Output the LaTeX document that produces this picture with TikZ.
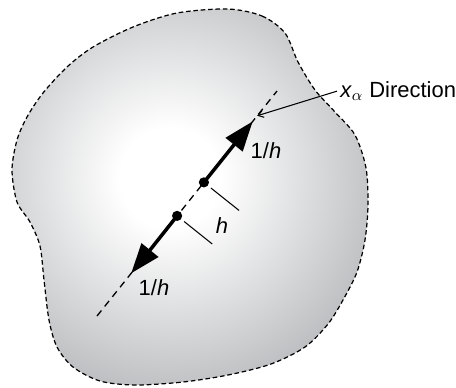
\documentclass[tikz,border=0pt]{standalone}
\usepackage{fontspec}
\setmainfont{Liberation Sans}
\usetikzlibrary{arrows.meta,calc}
\definecolor{blobgray}{RGB}{160,162,166}
\pgfdeclareradialshading{blobshade}{\pgfpointorigin}{color(0bp)=(white); color(5bp)=(white); color(29bp)=(blobgray); color(50bp)=(blobgray)}

\begin{document}
\begin{tikzpicture}[
    x=0.02cm, y=-0.02cm,
    every node/.style={font=\fontsize{12.5}{15}\selectfont},
    outline/.style={draw, dash pattern=on 2.6pt off 1.6pt, line width=0.7pt},
    axis/.style={draw, dash pattern=on 4pt off 3pt, line width=0.75pt},
    flux/.style={-{Triangle[length=17pt,width=12pt]}, line width=2pt},
    tick/.style={line width=0.6pt},
    leader/.style={-{Straight Barb[length=3pt,width=4pt]}, line width=0.6pt},
    dot/.style={circle, fill, inner sep=0pt, minimum size=5.8pt}
]
\useasboundingbox (0,0) rectangle (456,387);

% Region
\def\blobpath{plot[smooth cycle] coordinates {
    (228,9) (262,16) (285,33) (298,62) (315,90) (335,112) (355,135)
    (366,168) (368,205) (365,240) (357,272) (343,300) (328,324) (305,347)
    (271,364) (228,375) (183,382) (135,385) (100,381) (73,367) (57,347)
    (49,320) (44,280) (40,246) (30,222) (17,202) (12,170) (17,140)
    (27,117) (43,93) (67,67) (93,47) (133,27) (177,13)}}
\begin{scope}
    \clip \blobpath;
    \shade[shading=blobshade] (170,178) circle (250);
\end{scope}
\path[outline] \blobpath;

% Direction axis
\coordinate (lo) at (97,316);
\coordinate (hi) at (277,91);
\coordinate (tipL) at ($(lo)!0.19!(hi)$);
\coordinate (tipU) at ($(lo)!0.865!(hi)$);
\coordinate (aim) at ($(lo)!0.89!(hi)$);
\path[axis] (lo) -- (hi);

% Points and fluxes
\node[dot] (dotL) at ($(lo)!0.445!(hi)$) {};
\node[dot] (dotU) at ($(lo)!0.594!(hi)$) {};
\draw[flux] (dotU.center) -- (tipU);
\draw[flux] (dotL.center) -- (tipL);

% Spacing h
\draw[tick] ($(dotU.center)!0.18cm!-90:(hi)$) -- ($(dotU.center)!0.9cm!-90:(hi)$);
\draw[tick] ($(dotL.center)!0.18cm!-90:(hi)$) -- ($(dotL.center)!0.9cm!-90:(hi)$);

% Labels
\node (hlab) at (222,226) {\textit{h}};
\node (fluxU) at (266,151) {1/\textit{h}};
\node (fluxL) at (154,288) {1/\textit{h}};
\node[anchor=base west, inner sep=0pt] (dirlab) at (340,97.5) {\textit{x}$_\alpha$ Direction};
\draw[leader] ($(dirlab.west)+(-3,0)$) -- (aim);

\end{tikzpicture}
\end{document}
